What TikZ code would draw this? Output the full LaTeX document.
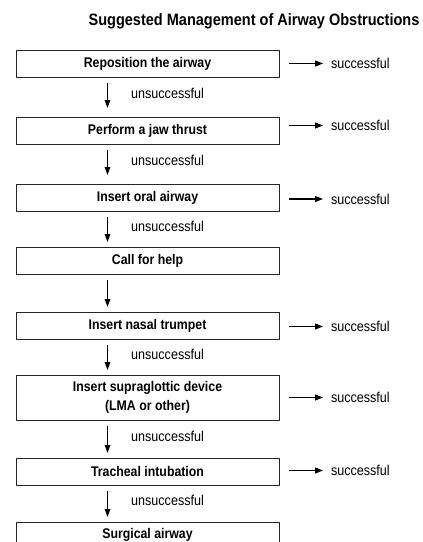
\documentclass[tikz,border=0pt]{standalone}
\usepackage{fontspec}
\setmainfont{Liberation Sans}[FakeStretch=0.88]
\usetikzlibrary{positioning,arrows.meta}
\tikzstyle{stepbox} = [draw=black!85, line width=0.9pt, rectangle, outer sep=0pt,
	minimum width=263pt, minimum height=27pt, inner sep=2pt, align=center,
	font=\fontsize{14}{18.5}\selectfont\bfseries]
\tikzstyle{downArrow} = [line width=1.3pt, -{Triangle[length=8pt,width=5.5pt]},
	shorten <=6pt, shorten >=5pt]
\tikzstyle{sideArrow} = [line width=1.3pt, -{Triangle[length=8pt,width=6pt]}]
\tikzstyle{succ} = [inner xsep=8pt, inner ysep=0pt, outer sep=0pt, font=\fontsize{14.3}{17}\selectfont]
\tikzstyle{unsucc} = [right, inner sep=0pt, xshift=23pt, pos=0.42, font=\fontsize{14.3}{17}\selectfont]

\begin{document}
\begin{tikzpicture}[x=1pt, y=1pt, node distance=37pt]
		\clip (0,0) rectangle (423,-542);		% Bildausschnitt
		% nodes
		\node[font=\fontsize{16.5}{20}\selectfont\bfseries] (title) at (254,-21) {Suggested Management of Airway Obstructions};
		\node[stepbox] (repos) at (147.5,-63.5) {Reposition the airway};	% 1. Schritt
		\node[stepbox, below=40pt of repos] (jaw) {Perform a jaw thrust};
		\node[stepbox, below=40pt of jaw] (oral) {Insert oral airway};
		\node[stepbox, below=36pt of oral] (help) {Call for help};
		\node[stepbox, below=38pt of help] (nasal) {Insert nasal trumpet};
		\node[stepbox, below=36pt of nasal, minimum height=45pt] (supra) {Insert supraglottic device\\(LMA or other)};
		\node[stepbox, below=38pt of supra] (trach) {Tracheal intubation};
		\node[stepbox, below=37pt of trach, minimum height=25pt] (surg) {Surgical airway};	% letzter Schritt, unten abgeschnitten
		
		\node[succ, right=44pt of repos] (s-repos) {successful};
		\node[succ, right=44pt of jaw, yshift=5pt] (s-jaw) {successful};
		\node[succ, right=44pt of oral, yshift=-1.5pt] (s-oral) {successful};
		\node[succ, right=44pt of nasal, yshift=-1pt] (s-nasal) {successful};
		\node[succ, right=44pt of supra] (s-supra) {successful};
		\node[succ, right=44pt of trach, yshift=1pt] (s-trach) {successful};
		
		% arrows down
		\draw[downArrow, shorten >=9pt] ([xshift=-40pt]repos.south) to node[unsucc] {unsuccessful} ([xshift=-40pt]jaw.north);
		\draw[downArrow, shorten >=9pt] ([xshift=-40pt]jaw.south) to node[unsucc] {unsuccessful} ([xshift=-40pt]oral.north);
		\draw[downArrow] ([xshift=-40pt]oral.south) to node[unsucc] {unsuccessful} ([xshift=-40pt]help.north);
		\draw[downArrow] ([xshift=-40pt]help.south) to ([xshift=-40pt]nasal.north);
		\draw[downArrow] ([xshift=-40pt]nasal.south) to node[unsucc] {unsuccessful} ([xshift=-40pt]supra.north);
		\draw[downArrow] ([xshift=-40pt]supra.south) to node[unsucc] {unsuccessful} ([xshift=-40pt]trach.north);
		\draw[downArrow] ([xshift=-40pt]trach.south) to node[unsucc] {unsuccessful} ([xshift=-40pt]surg.north);
		
		% arrows right
		\draw[sideArrow] ([xshift=10pt]repos.east) to (s-repos.west);
		\draw[sideArrow] ([xshift=10pt,yshift=5pt]jaw.east) to (s-jaw.west);
		\draw[sideArrow] ([xshift=10pt,yshift=-1.5pt]oral.east) to (s-oral.west);
		\draw[sideArrow] ([xshift=10pt,yshift=-1pt]nasal.east) to (s-nasal.west);
		\draw[sideArrow] ([xshift=10pt]supra.east) to (s-supra.west);
		\draw[sideArrow] ([xshift=10pt,yshift=1pt]trach.east) to (s-trach.west);
\end{tikzpicture}
\end{document}
